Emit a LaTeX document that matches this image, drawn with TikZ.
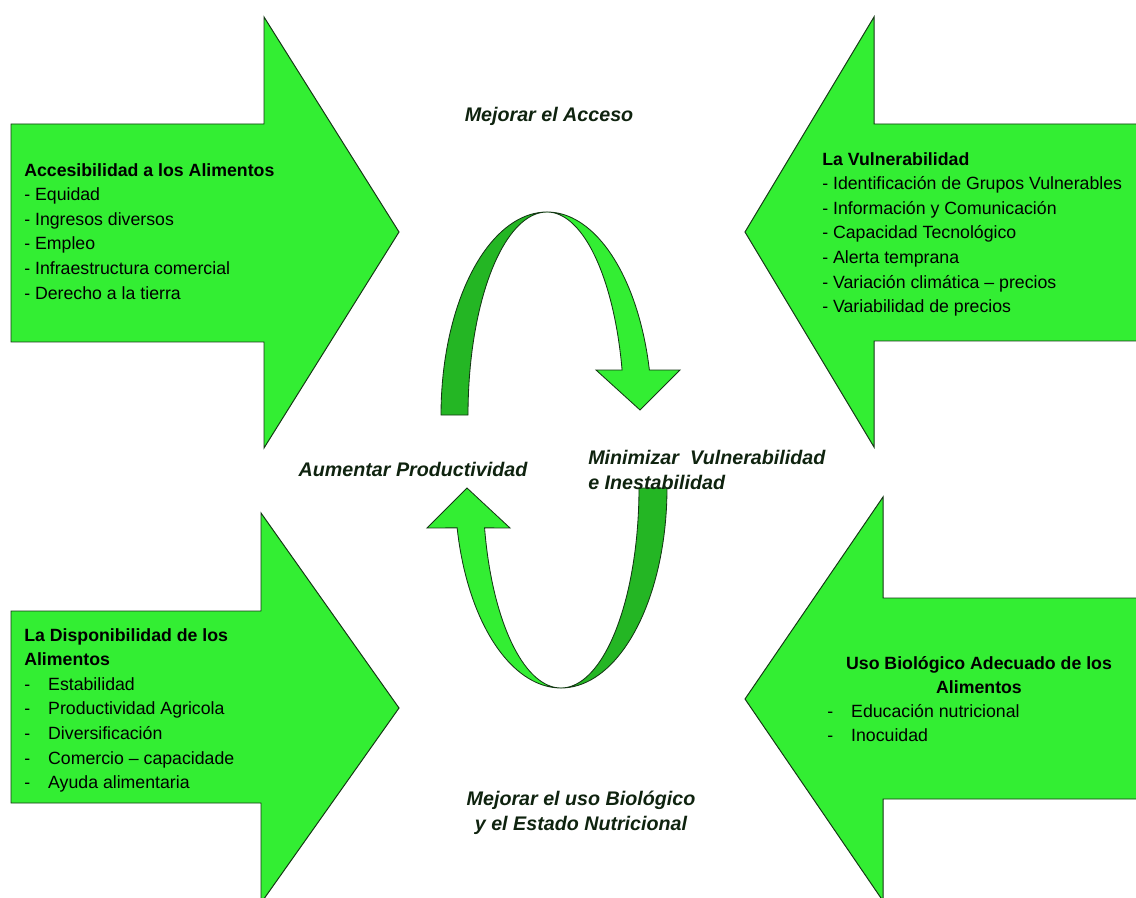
\documentclass[tikz,border=0pt]{standalone}
\usepackage{fontspec}
\setmainfont{Liberation Sans}
\usetikzlibrary{positioning}

\definecolor{arrowgreen}{RGB}{51,238,51}
\definecolor{ribbondark}{RGB}{36,182,36}
\definecolor{edgegreen}{RGB}{20,55,20}
\definecolor{labelink}{RGB}{15,35,15}

\newcommand{\itm}[1]{\makebox[17pt][l]{-}#1}

\begin{document}
\begin{tikzpicture}[x=0.025cm, y=-0.025cm]
\tikzstyle{bigarrow}=[fill=arrowgreen, draw=edgegreen, line width=0.7pt, line join=miter]
\tikzstyle{ribbonlight}=[fill=arrowgreen, draw=edgegreen, line width=0.6pt]
\tikzstyle{ribbonback}=[fill=ribbondark, draw=edgegreen, line width=0.6pt]
\tikzstyle{boxtxt}=[inner sep=0pt, align=left, font=\fontsize{12.6}{17.5}\selectfont]
\tikzstyle{cyclelbl}=[inner sep=0pt, text=labelink, font=\fontsize{14}{17.7}\selectfont\bfseries\itshape]

\useasboundingbox (0,0) rectangle (1136,898);
\clip (0,0) rectangle (1136,898);

% block arrows
\draw[bigarrow] (11,124) -- (264,124) -- (264,17) -- (399,232) -- (264,448) -- (264,342) -- (11,342) -- cycle;
\draw[bigarrow] (1140,124) -- (874,124) -- (874,17) -- (745,232) -- (874,447) -- (874,341) -- (1140,341);
\draw[bigarrow] (11,611) -- (261,611) -- (261,513) -- (399,708) -- (261,903) -- (261,803) -- (11,803) -- cycle;
\draw[bigarrow] (1140,598) -- (883,598) -- (883,497) -- (745,699) -- (883,901) -- (883,799) -- (1140,799);

% upper ribbon
\draw[ribbonback] plot[domain=180:90, samples=40] ({547+106*cos(\x)},{415-203*sin(\x)})
  -- plot[domain=90:180, samples=40] ({547+79*cos(\x)},{415-203*sin(\x)}) -- cycle;
\draw[ribbonlight] plot[domain=90:12.8, samples=40] ({547+105*cos(\x)},{415-203*sin(\x)})
  -- (680,370) -- (640,410) -- (596,370)
  -- plot[domain=12.8:90, samples=40] ({547+77*cos(\x)},{415-203*sin(\x)}) -- cycle;

% lower ribbon
\draw[ribbonback] plot[domain=0:90, samples=40] ({561+106*cos(\x)},{488+200*sin(\x)})
  -- plot[domain=90:0, samples=40] ({561+78*cos(\x)},{488+200*sin(\x)}) -- cycle;
\draw[ribbonlight] plot[domain=90:168.5, samples=40] ({561+106*cos(\x)},{488+200*sin(\x)})
  -- (427,528) -- (467,488) -- (510,528)
  -- plot[domain=168.5:90, samples=40] ({561+78*cos(\x)},{488+200*sin(\x)}) -- cycle;

% texts in the arrows
\node (accesib) [boxtxt, anchor=north west] at (24,163)
  {\textbf{Accesibilidad a los Alimentos}\\- Equidad\\- Ingresos diversos\\- Empleo\\- Infraestructura comercial\\- Derecho a la tierra};
\node (vulner) [boxtxt, anchor=north west] at (822,152)
  {\textbf{La Vulnerabilidad}\\- Identificación de Grupos Vulnerables\\- Información y Comunicación\\- Capacidad Tecnológico\\- Alerta temprana\\- Variación climática -- precios\\- Variabilidad de precios};
\node (disponib) [boxtxt, anchor=north west] at (24,628)
  {\textbf{La Disponibilidad de los}\\\textbf{Alimentos}\\\itm{Estabilidad}\\\itm{Productividad Agricola}\\\itm{Diversificación}\\\itm{Comercio -- capacidade}\\\itm{Ayuda alimentaria}};
\node (usobio) [boxtxt, align=center, font=\fontsize{12.6}{17.5}\selectfont\bfseries] at (979,675)
  {Uso Biológico Adecuado de los\\Alimentos};
\node (usoitems) [boxtxt, anchor=north west] at (827,704)
  {\itm{Educación nutricional}\\\itm{Inocuidad}};

% cycle labels
\node (mejacceso) [cyclelbl] at (549,116) {Mejorar el Acceso};
\node (aumprod) [cyclelbl] at (413,469) {Aumentar Productividad};
\node (minvuln) [cyclelbl, anchor=west, align=left] at (588,470) {Minimizar\ \ Vulnerabilidad\\e Inestabilidad};
\node (mejuso) [cyclelbl, align=center] at (581,813) {Mejorar el uso Biológico\\y el Estado Nutricional};
\end{tikzpicture}
\end{document}
